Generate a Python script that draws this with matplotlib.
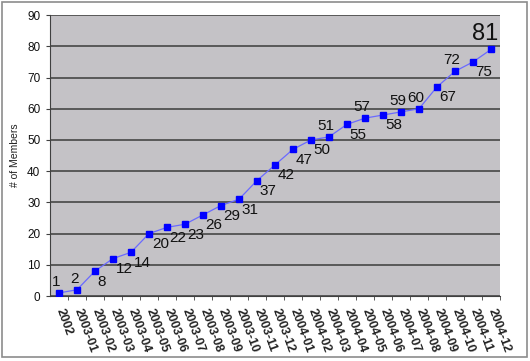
import matplotlib
matplotlib.use("Agg")
import matplotlib.pyplot as plt
from matplotlib.patches import Rectangle
from matplotlib.ticker import FixedLocator, MultipleLocator

plt.rcParams['font.family'] = ['Liberation Sans', 'DejaVu Sans']

months = ["2002"] + ["2003-%02d" % m for m in range(1, 13)] + ["2004-%02d" % m for m in range(1, 13)]
members = [1, 2, 8, 12, 14, 20, 22, 23, 26, 29, 31, 37, 42, 47, 50, 51, 55, 57, 58, 59, 60, 67, 72, 75, 79]
point_labels = ["1", "2", "8", "12", "14", "20", "22", "23", "26", "29", "31", "37", "42",
                "47", "50", "51", "55", "57", "58", "59", "60", "67", "72", "75", "81"]
# a = above the point, b = below right of it
label_side = ["a", "a", "b", "b", "b", "b", "b", "b", "b", "b", "b", "b", "b",
              "b", "b", "a", "b", "a", "b", "a", "a", "b", "a", "b", "a"]

fig = plt.figure(figsize=(5.30, 3.61), dpi=100)
fig.patches.append(Rectangle((0.004, 0.011), 0.991, 0.983, transform=fig.transFigure,
                             fill=False, edgecolor="#8c8c8c", linewidth=1.2))

ax = fig.add_axes([0.0943, 0.180, 0.849, 0.778])
ax.set_facecolor("#c4c2c6")

x = list(range(len(months)))
ax.plot(x, members, color="#6a6aff", linewidth=0.9, marker="s", markersize=5,
        markerfacecolor="#0000ff", markeredgecolor="#0000ff", zorder=3)

for i, (v, txt, side) in enumerate(zip(members, point_labels, label_side)):
    if i == len(members) - 1:
        ax.annotate(txt, (i, v), xytext=(-4, 3), textcoords="offset points",
                    ha="center", va="bottom", fontsize=17, color="#111111")
    elif side == "a":
        ax.annotate(txt, (i, v), xytext=(-2, 3), textcoords="offset points",
                    ha="center", va="bottom", fontsize=11, color="#111111")
    else:
        ax.annotate(txt, (i, v), xytext=(2, -2.5), textcoords="offset points",
                    ha="left", va="top", fontsize=11, color="#111111")

ax.set_xlim(-0.5, len(months) - 0.5)
ax.set_ylim(0, 90)
ax.yaxis.set_major_locator(MultipleLocator(10))
ax.yaxis.grid(True, color="#505050", linewidth=1.3)
ax.set_axisbelow(True)

ax.set_xticks(x)
ax.set_xticklabels(months, rotation=-70, rotation_mode="anchor", ha="left", va="center",
                   fontsize=9, fontweight="bold", color="#222222")
ax.xaxis.set_minor_locator(FixedLocator([i + 0.5 for i in x]))
ax.tick_params(axis="x", which="major", length=0, pad=9)
ax.tick_params(axis="x", which="minor", length=3, direction="out", color="#404040")
ax.tick_params(axis="y", length=3, pad=4, labelsize=8.5, color="#404040", labelcolor="#111111")

for s in ["top", "right"]:
    ax.spines[s].set_visible(False)
ax.spines["left"].set_color("#404040")
ax.spines["bottom"].set_color("#404040")

ax.set_ylabel("# of Members", fontsize=7.5, color="#222222", labelpad=5)

fig.savefig("out.png", dpi=100)
